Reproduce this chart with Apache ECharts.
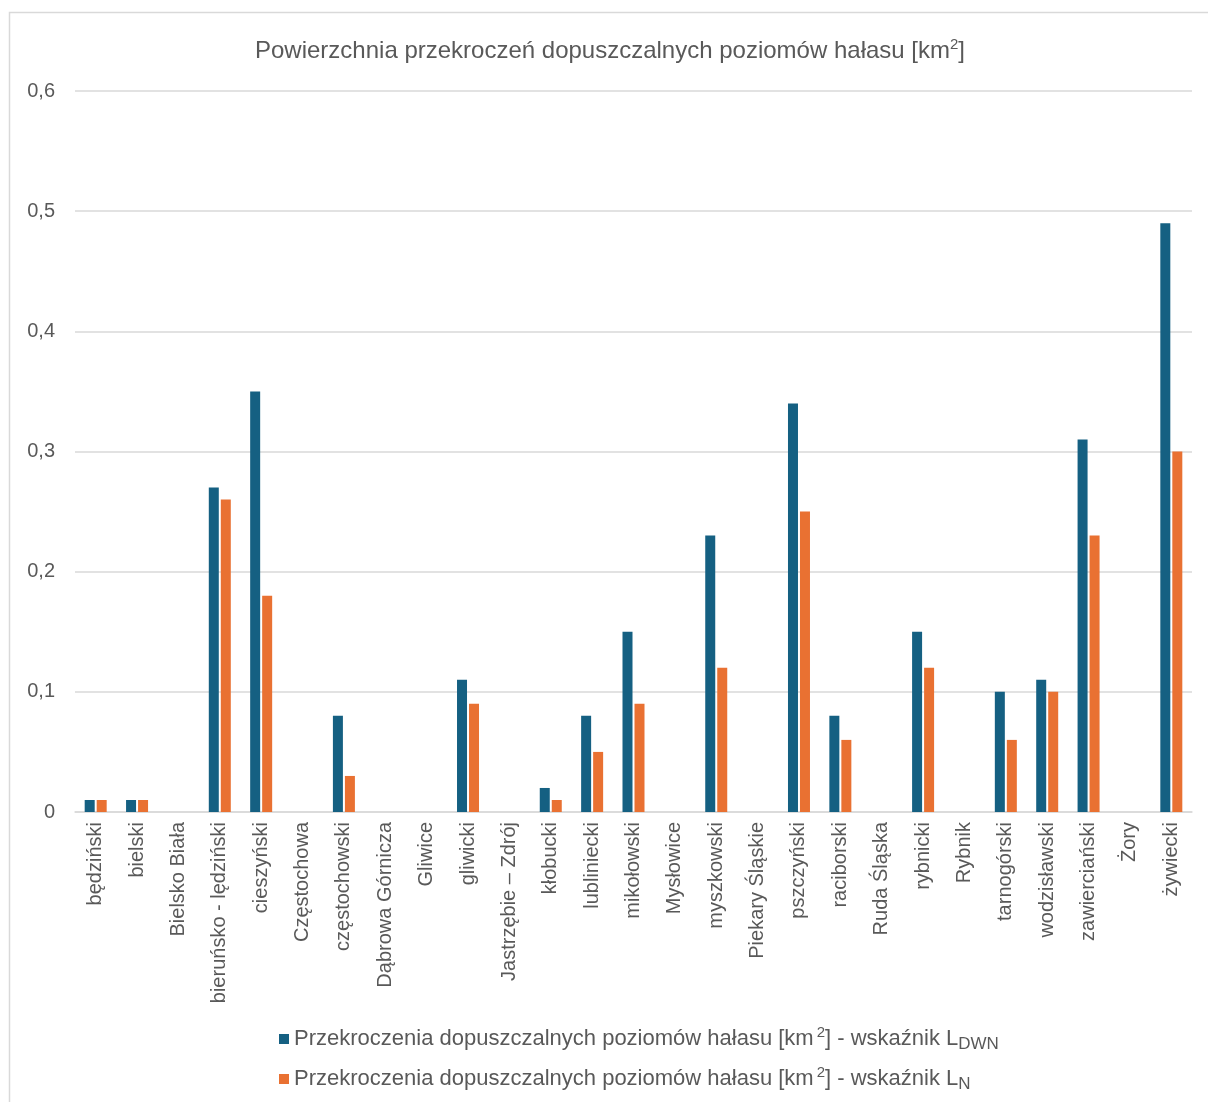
<!DOCTYPE html>
<html>
<head>
<meta charset="utf-8">
<script src="https://cdn.jsdelivr.net/npm/echarts@6/dist/echarts.min.js"></script>
<style>
html,body{margin:0;padding:0;background:#fff;}
#c{width:1208px;height:1102px;}
</style>
</head>
<body>
<div id="c"></div>
<script>
const categories = ['będziński','bielski','Bielsko Biała','bieruńsko - lędziński','cieszyński','Częstochowa','częstochowski','Dąbrowa Górnicza','Gliwice','gliwicki','Jastrzębie – Zdrój','kłobucki','lubliniecki','mikołowski','Mysłowice','myszkowski','Piekary Śląskie','pszczyński','raciborski','Ruda Śląska','rybnicki','Rybnik','tarnogórski','wodzisławski','zawierciański','Żory','żywiecki'];
const ldwn = [0.01,0.01,0,0.27,0.35,0,0.08,0,0,0.11,0,0.02,0.08,0.15,0,0.23,0,0.34,0.08,0,0.15,0,0.10,0.11,0.31,0,0.49];
const ln   = [0.01,0.01,0,0.26,0.18,0,0.03,0,0,0.09,0,0.01,0.05,0.09,0,0.12,0,0.25,0.06,0,0.12,0,0.06,0.10,0.23,0,0.30];
const yTicks = {min:0, max:0.6, interval:0.1};
const nameLdwn = 'Przekroczenia dopuszczalnych poziomów hałasu [km2] - wskaźnik LDWN';
const nameLn = 'Przekroczenia dopuszczalnych poziomów hałasu [km2] - wskaźnik LN';

const chart = echarts.init(document.getElementById('c'));
const font = 'Liberation Sans, Arial, sans-serif';
const grey = '#595959';
chart.setOption({
  backgroundColor:'#fff',
  animation:false,
  graphic:[{type:'rect', shape:{x:9.5,y:12.5,width:1400,height:1300}, style:{fill:'none', stroke:'#d9d9d9', lineWidth:1.5}, silent:true}],
  title:{text:'{a|Powierzchnia przekroczeń dopuszczalnych poziomów hałasu [km}{sup|2}{a|]}', left:250, top:32,
    textStyle:{fontFamily:font, fontSize:24, fontWeight:'normal', color:grey,
      rich:{
        a:{fontFamily:font, fontSize:24, color:grey, lineHeight:28},
        sup:{fontFamily:font, fontSize:15, color:grey, verticalAlign:'top', lineHeight:28, padding:[0,0,8,0]}
      }}},
  grid:{left:75, right:16, top:91, bottom:290, containLabel:false},
  legend:{
    orient:'vertical', left:274, top:1020, itemGap:12, itemWidth:10, itemHeight:10, icon:'rect',
    textStyle:{fontFamily:font, fontSize:22, color:grey,
      rich:{
        a:{fontFamily:font, fontSize:22, color:grey, lineHeight:28},
        sup:{fontFamily:font, fontSize:15, color:grey, verticalAlign:'top', lineHeight:28, padding:[0,0,8,3]},
        sub:{fontFamily:font, fontSize:17, color:grey, verticalAlign:'bottom', lineHeight:28, padding:[2,0,0,0]}
      }},
    formatter:function(n){
      const parts = n === nameLdwn ? 'DWN' : 'N';
      return '{a|Przekroczenia dopuszczalnych poziomów hałasu [km}{sup|2}{a|] - wskaźnik L}{sub|'+parts+'}';
    }
  },
  xAxis:{type:'category', data:categories,
    axisLine:{lineStyle:{color:'#d9d9d9', width:1.5}}, axisTick:{show:false},
    axisLabel:{rotate:90, interval:0, margin:10, fontFamily:font, fontSize:20, color:grey}},
  yAxis:{type:'value', min:yTicks.min, max:yTicks.max, interval:yTicks.interval,
    axisLine:{show:false}, axisTick:{show:false},
    splitLine:{lineStyle:{color:'#d9d9d9', width:1.5}},
    axisLabel:{margin:20, fontFamily:font, fontSize:20, color:grey,
      formatter:v=> v===0 ? '0' : v.toFixed(1).replace('.',',')}},
  series:[
    {name:nameLdwn, type:'bar', data:ldwn, barWidth:10, barGap:'20%', itemStyle:{color:'#156082'}},
    {name:nameLn, type:'bar', data:ln, barWidth:10, barGap:'20%', itemStyle:{color:'#E97132'}}
  ]
});
</script>
</body>
</html>
